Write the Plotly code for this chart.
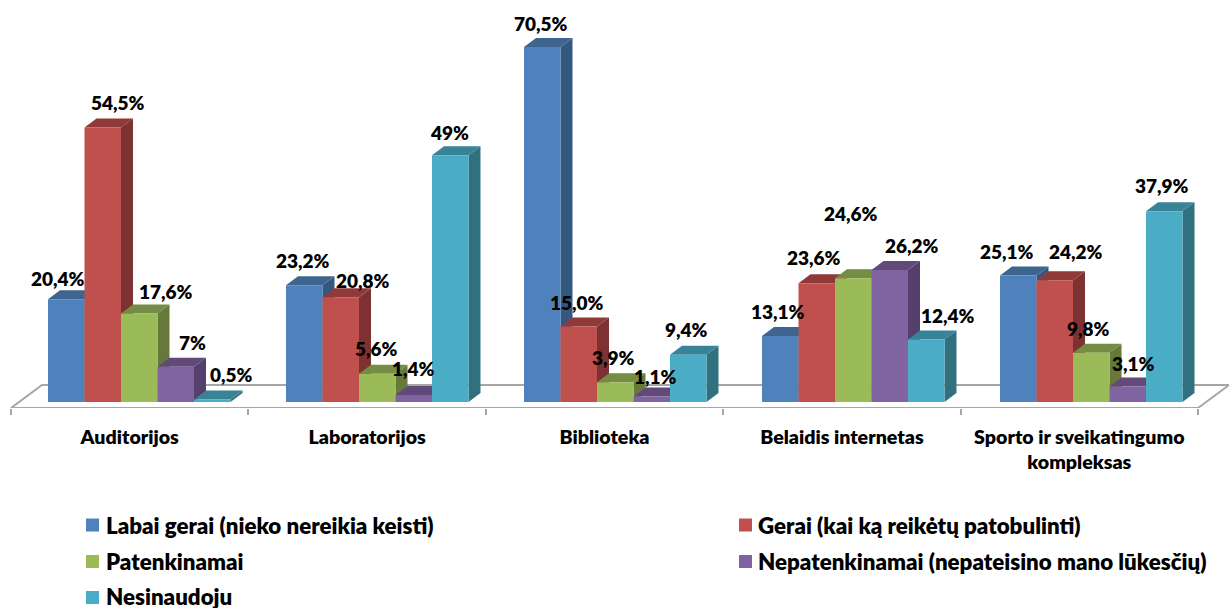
import plotly.graph_objects as go

CATEGORIES = ["Auditorijos", "Laboratorijos", "Biblioteka", "Belaidis internetas",
              "Sporto ir sveikatingumo<br>kompleksas"]
SERIES = ["Labai gerai (nieko nereikia keisti)", "Gerai (kai ką reikėtų patobulinti)",
          "Patenkinamai", "Nepatenkinamai (nepateisino mano lūkesčių)", "Nesinaudoju"]
LABAI_GERAI = [20.4, 23.2, 70.5, 13.1, 25.1]
GERAI = [54.5, 20.8, 15.0, 23.6, 24.2]
PATENKINAMAI = [17.6, 5.6, 3.9, 24.6, 9.8]
NEPATENKINAMAI = [7.0, 1.4, 1.1, 26.2, 3.1]
NESINAUDOJU = [0.5, 49.0, 9.4, 12.4, 37.9]
VALUES = [LABAI_GERAI, GERAI, PATENKINAMAI, NEPATENKINAMAI, NESINAUDOJU]
LABELS = [
    ["20,4%", "23,2%", "70,5%", "13,1%", "25,1%"],
    ["54,5%", "20,8%", "15,0%", "23,6%", "24,2%"],
    ["17,6%", "5,6%", "3,9%", "24,6%", "9,8%"],
    ["7%", "1,4%", "1,1%", "26,2%", "3,1%"],
    ["0,5%", "49%", "9,4%", "12,4%", "37,9%"],
]
LABEL_CENTRES_PX = [
    [(58, 278), (303, 260), (541, 24), (778, 312), (1007, 252)],
    [(118, 103), (363, 281), (577, 302), (814, 258), (1076, 252)],
    [(166, 292), (376, 349), (613, 358), (851, 213), (1088, 328)],
    [(192, 342), (413, 369), (655, 377), (912, 246), (1133, 364)],
    [(231, 375), (449, 132), (686, 330), (948, 315), (1162, 186)],
]
FRONT = ["#4F81BD", "#C0504D", "#9BBB59", "#8064A2", "#4BACC6"]
SIDE = ["#34587F", "#7D3130", "#66793B", "#553F6C", "#30707F"]
TOP = ["#3E6490", "#8F3A38", "#748C43", "#614A7A", "#388397"]
FLOOR = "#A6A6A6"
FONT = "Lato"
WEIGHT = 800

W, H = 1229, 608
BASE_PX, PLOT_H = 402, 408
PX_PER_VAL = 5.035
CAT_PX, X0_PX = 237.4, 11
GROUP_STEP = 238 / CAT_PX
BAR_W = 36.5 / CAT_PX
BAR_OFF = 37 / CAT_PX
DX, DY = 12 / CAT_PX, 9 / PX_PER_VAL
Y_TOP = BASE_PX / PX_PER_VAL
Y_BOT = (BASE_PX - PLOT_H) / PX_PER_VAL
X_L, X_R = -X0_PX / CAT_PX, (W - X0_PX) / CAT_PX


def poly(xs, ys, color, width=0, linecolor=None):
    return go.Scatter(x=xs, y=ys, xaxis="x2", yaxis="y", mode="lines", fill="toself",
                      fillcolor=color, line=dict(width=width, color=linecolor or color),
                      hoverinfo="skip", showlegend=False, cliponaxis=False)


fig = go.Figure()
fig.add_trace(go.Scatter(x=[c for c in CATEGORIES], y=[None] * 5, xaxis="x", yaxis="y",
                         mode="markers", showlegend=False, hoverinfo="skip"))
back = 23 / PX_PER_VAL
dxf = 31 / CAT_PX
n = len(CATEGORIES)
fig.add_trace(poly([0, n, n + dxf, dxf, 0], [Y_BOT, Y_BOT, Y_BOT + back, Y_BOT + back, Y_BOT],
                   "#FFFFFF", 2, FLOOR))

for c in range(n):
    for s in range(5):
        v = VALUES[s][c]
        x0 = c * GROUP_STEP + BAR_OFF + s * BAR_W
        x1 = x0 + BAR_W
        fig.add_trace(poly([x1, x1 + DX, x1 + DX, x1, x1], [0, DY, v + DY, v, 0], SIDE[s]))
        fig.add_trace(poly([x0, x0 + DX, x1 + DX, x1, x0], [v, v + DY, v + DY, v, v], TOP[s]))
        fig.add_trace(poly([x0, x1, x1, x0, x0], [0, 0, v, v, 0], FRONT[s]))

annotations = []
for s in range(5):
    for c in range(n):
        v = VALUES[s][c]
        xc = c * GROUP_STEP + BAR_OFF + (s + 0.5) * BAR_W
        px, py = LABEL_CENTRES_PX[s][c]
        annotations.append(dict(
            x=xc, y=v, xref="x2", yref="y", text=LABELS[s][c], showarrow=False,
            xshift=px - (X0_PX + xc * CAT_PX), yshift=(BASE_PX - v * PX_PER_VAL) - py,
            font=dict(family=FONT, size=19, color="#000000", weight=WEIGHT),
            xanchor="center", yanchor="middle"))

# One legend per entry for the wide spacing; the swatches sit closer to the text
# than plotly's legend allows, so they are drawn as small paper-anchored squares.
LEG_X = [73, 725, 73, 725, 73]
LEG_Y = [525, 525, 561, 561, 596]
SWATCH_X = [86, 739, 86, 739, 86]
SWATCH_Y = [525, 525, 561.5, 561.5, 597.5]
SWATCH = 13
layout_legends = {}
shapes = []
for s in range(5):
    key = "legend" if s == 0 else f"legend{s + 1}"
    fig.add_trace(go.Scatter(x=[None], y=[None], xaxis="x2", yaxis="y", mode="markers",
                             name=SERIES[s], legend=key, showlegend=True,
                             marker=dict(symbol="square", size=13, color="rgba(0,0,0,0)")))
    layout_legends[key] = dict(x=LEG_X[s] / W, xanchor="left",
                               y=1 - LEG_Y[s] / PLOT_H, yanchor="middle",
                               bgcolor="rgba(0,0,0,0)", indentation=-7,
                               font=dict(family=FONT, size=22.3, color="#000000", weight=WEIGHT))
    shapes.append(dict(type="rect", xref="paper", yref="paper", layer="above",
                       x0=SWATCH_X[s] / W, x1=(SWATCH_X[s] + SWATCH) / W,
                       y0=1 - (SWATCH_Y[s] + SWATCH / 2) / PLOT_H,
                       y1=1 - (SWATCH_Y[s] - SWATCH / 2) / PLOT_H,
                       fillcolor=FRONT[s], line=dict(width=0)))

fig.update_layout(
    width=W, height=H, paper_bgcolor="#FFFFFF", plot_bgcolor="rgba(0,0,0,0)",
    margin=dict(l=0, r=0, t=0, b=H - PLOT_H, pad=0, autoexpand=False),
    font=dict(family=FONT, size=19, color="#000000"),
    xaxis=dict(type="category", categoryorder="array", categoryarray=CATEGORIES,
               range=[-0.5 + X_L, -0.5 + X_R], tickson="boundaries", ticks="outside",
               ticklen=6, tickwidth=2, tickcolor=FLOOR, showgrid=False, zeroline=False,
               showline=False, ticklabelstandoff=15,
               tickfont=dict(family=FONT, size=19.6, color="#000000", weight=WEIGHT)),
    xaxis2=dict(overlaying="x", anchor="y", range=[X_L, X_R], visible=False),
    yaxis=dict(range=[Y_BOT, Y_TOP], visible=False),
    annotations=annotations,
    shapes=shapes,
    **layout_legends,
)
fig.write_html("out.html", config={"displayModeBar": False},
               post_script="document.body.style.margin='0';")
